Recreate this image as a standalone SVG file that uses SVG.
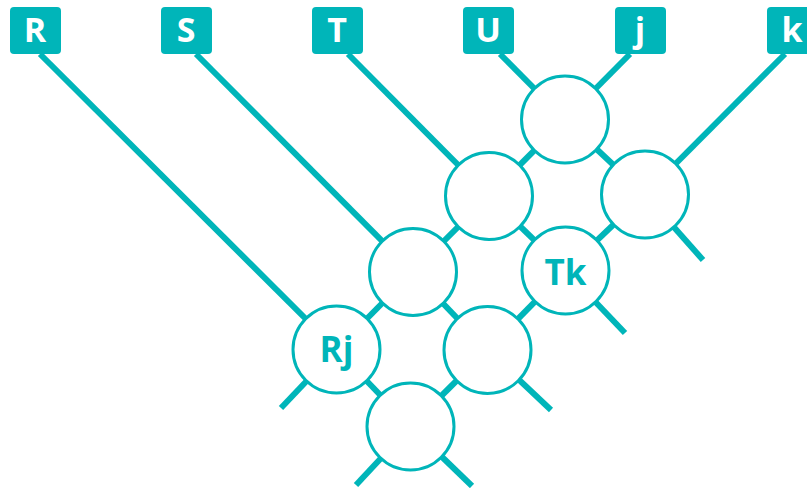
<svg xmlns="http://www.w3.org/2000/svg" width="807" height="488" viewBox="0 0 807 488">
<style>
.ln{stroke:#00b5b9;stroke-width:6;fill:none;stroke-linecap:butt}
.nd{fill:#fff;stroke:#00b5b9;stroke-width:3}
.bx{fill:#00b5b9}
.bt{fill:#fff;font-family:"Open Sans","Liberation Sans",sans-serif;font-weight:bold;font-size:34px;text-anchor:middle}
.ct{fill:#00b5b9;font-family:"Open Sans","Liberation Sans",sans-serif;font-weight:bold;font-size:35px;text-anchor:middle}
</style>
<rect width="807" height="488" fill="#fff"/>
<g id="connectors">
<line class="ln" x1="40" y1="54" x2="336.5" y2="349.5"/>
<line class="ln" x1="196" y1="54" x2="413" y2="272"/>
<line class="ln" x1="348" y1="54" x2="489" y2="196"/>
<line class="ln" x1="500" y1="54" x2="565" y2="119.5"/>
<line class="ln" x1="630" y1="54" x2="565" y2="119.5"/>
<line class="ln" x1="785" y1="54" x2="645" y2="194.5"/>
<line class="ln" x1="565" y1="119.5" x2="489" y2="196"/>
<line class="ln" x1="565" y1="119.5" x2="645" y2="194.5"/>
<line class="ln" x1="489" y1="196" x2="413" y2="272"/>
<line class="ln" x1="489" y1="196" x2="565.5" y2="270.5"/>
<line class="ln" x1="645" y1="194.5" x2="565.5" y2="270.5"/>
<line class="ln" x1="413" y1="272" x2="336.5" y2="349.5"/>
<line class="ln" x1="413" y1="272" x2="487.5" y2="350"/>
<line class="ln" x1="565.5" y1="270.5" x2="487.5" y2="350"/>
<line class="ln" x1="336.5" y1="349.5" x2="410.5" y2="426.5"/>
<line class="ln" x1="487.5" y1="350" x2="410.5" y2="426.5"/>
<line class="ln" x1="645" y1="194.5" x2="703" y2="260"/>
<line class="ln" x1="565.5" y1="270.5" x2="625" y2="333"/>
<line class="ln" x1="487.5" y1="350" x2="551" y2="410"/>
<line class="ln" x1="410.5" y1="426.5" x2="472" y2="486"/>
<line class="ln" x1="410.5" y1="426.5" x2="356" y2="485"/>
<line class="ln" x1="336.5" y1="349.5" x2="281" y2="408"/>
</g>
<g id="box-R"><rect class="bx" x="10" y="7" width="51" height="47" rx="4"/><text class="bt" x="35" y="42">R</text></g>
<g id="box-S"><rect class="bx" x="161" y="7" width="51" height="47" rx="4"/><text class="bt" x="186" y="42">S</text></g>
<g id="box-T"><rect class="bx" x="312" y="7" width="51" height="47" rx="4"/><text class="bt" x="337" y="42">T</text></g>
<g id="box-U"><rect class="bx" x="463" y="7" width="51" height="47" rx="4"/><text class="bt" x="488" y="42">U</text></g>
<g id="box-j"><rect class="bx" x="615" y="7" width="51" height="47" rx="4"/><text class="bt" x="640" y="42">j</text></g>
<g id="box-k"><rect class="bx" x="767" y="7" width="51" height="47" rx="4"/><text class="bt" x="792" y="42">k</text></g>
<g id="node-A"><circle class="nd" cx="565" cy="119.5" r="43.5"/></g>
<g id="node-B"><circle class="nd" cx="489" cy="196" r="43.5"/></g>
<g id="node-C"><circle class="nd" cx="645" cy="194.5" r="43.5"/></g>
<g id="node-D"><circle class="nd" cx="413" cy="272" r="43.5"/></g>
<g id="node-Tk"><circle class="nd" cx="565.5" cy="270.5" r="43.5"/><text class="ct" x="565.5" y="285">Tk</text></g>
<g id="node-Rj"><circle class="nd" cx="336.5" cy="349.5" r="43.5"/><text class="ct" x="336.5" y="361.5">Rj</text></g>
<g id="node-G"><circle class="nd" cx="487.5" cy="350" r="43.5"/></g>
<g id="node-H"><circle class="nd" cx="410.5" cy="426.5" r="43.5"/></g>
</svg>
